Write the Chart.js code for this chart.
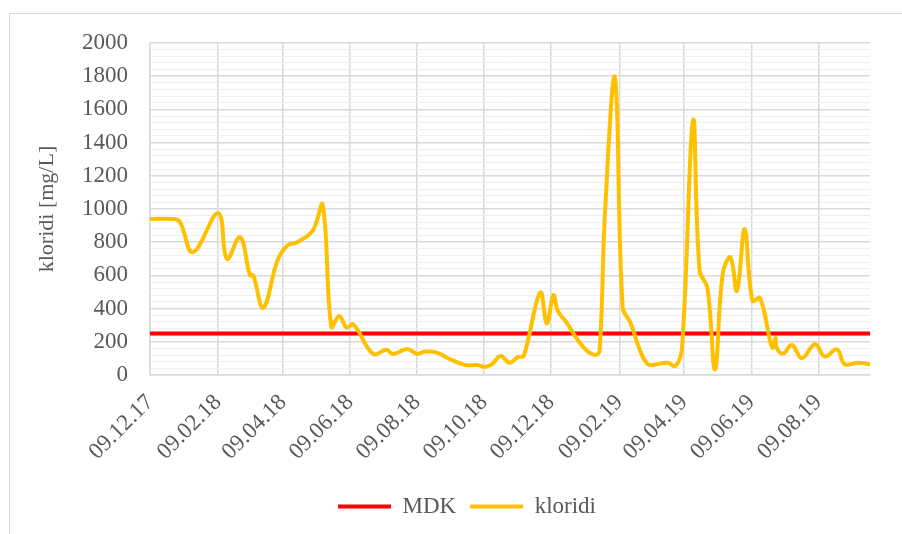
<!DOCTYPE html>
<html>
<head>
<meta charset="utf-8">
<script src="https://cdn.jsdelivr.net/npm/chart.js"></script>
<style>
  html, body { margin: 0; padding: 0; background: #fff; overflow: hidden; }
  #frame { position: absolute; left: 9px; top: 13px; width: 1000px; height: 1000px; border: 1px solid #d9d9d9; }
  #wrap { position: absolute; left: 0; top: 0; width: 902px; height: 534px; }
</style>
</head>
<body>
<div id="frame"></div>
<div id="wrap"><canvas id="myChart" width="902" height="534"></canvas></div>
<script>
  const dates = [
    '2017-12-09', '2017-12-29', '2018-01-05', '2018-01-17', '2018-02-09', '2018-02-17',
    '2018-03-01', '2018-03-10', '2018-03-13', '2018-03-22', '2018-04-04', '2018-04-13',
    '2018-04-22', '2018-05-06', '2018-05-15', '2018-05-23', '2018-05-30', '2018-06-06',
    '2018-06-12', '2018-06-30', '2018-07-12', '2018-07-18', '2018-07-31', '2018-08-09',
    '2018-08-16', '2018-08-27', '2018-09-08', '2018-09-22', '2018-10-03', '2018-10-10',
    '2018-10-16', '2018-10-24', '2018-11-01', '2018-11-09', '2018-11-14', '2018-11-29',
    '2018-12-05', '2018-12-11', '2018-12-15', '2018-12-23', '2019-01-01', '2019-01-10',
    '2019-01-18', '2019-01-22', '2019-01-27', '2019-02-05', '2019-02-12', '2019-02-19',
    '2019-02-28', '2019-03-07', '2019-03-15', '2019-03-25', '2019-04-01', '2019-04-07',
    '2019-04-17', '2019-04-23', '2019-04-30', '2019-05-07', '2019-05-14', '2019-05-21',
    '2019-05-27', '2019-06-03', '2019-06-10', '2019-06-17', '2019-06-28', '2019-07-01',
    '2019-07-02', '2019-07-08', '2019-07-16', '2019-07-25', '2019-08-06', '2019-08-15',
    '2019-08-26', '2019-09-02', '2019-09-14', '2019-09-25'
  ];
  const kloridi = [
    940, 940, 925, 740, 975, 700,
    830, 600, 600, 405, 690, 780,
    800, 870, 1025, 290, 355, 285,
    305, 127, 152, 127, 157, 127,
    141, 135, 95, 60, 60, 48,
    65, 115, 74, 109, 115, 497,
    310, 481, 387, 316, 222, 149,
    121, 149, 990, 1790, 407, 316,
    145, 65, 65, 74, 54, 165,
    1534, 628, 527, 34, 608, 709,
    507, 880, 447, 463, 165, 225,
    165, 129, 181, 101, 185, 111,
    155, 65, 74, 65
  ];
  const mdk = 250;
  const tickDates = [
    '2017-12-09', '2018-02-09', '2018-04-09', '2018-06-09', '2018-08-09', '2018-10-09',
    '2018-12-09', '2019-02-09', '2019-04-09', '2019-06-09', '2019-08-09'
  ];

  const start = Date.UTC(2017, 11, 9);
  function dayOf(s) {
    const p = s.split('-').map(Number);
    return (Date.UTC(p[0], p[1] - 1, p[2]) - start) / 864e5;
  }
  function fmt(s) {
    const p = s.split('-');
    return p[2] + '.' + p[1] + '.' + p[0].slice(2);
  }

  const xMax = dayOf(dates[dates.length - 1]);
  const font = { family: 'Liberation Serif', size: 23 };
  const grey = '#595959';

  // legend sits a bit right of the canvas centre in the original
  const shiftLegend = {
    id: 'shiftLegend',
    afterLayout(chart) {
      chart.legend.left += 32;
      chart.legend.right += 32;
    }
  };

  new Chart(document.getElementById('myChart'), {
    type: 'line',
    data: {
      datasets: [
        {
          label: 'MDK',
          data: [{ x: 0, y: mdk }, { x: xMax, y: mdk }],
          borderColor: '#ff0000',
          backgroundColor: '#ff0000',
          borderWidth: 4,
          pointRadius: 0,
          order: 1
        },
        {
          label: 'kloridi',
          data: dates.map((d, i) => ({ x: dayOf(d), y: kloridi[i] })),
          borderColor: '#ffc000',
          backgroundColor: '#ffc000',
          borderWidth: 4,
          pointRadius: 0,
          tension: 0.4,
          order: 0
        }
      ]
    },
    plugins: [shiftLegend],
    options: {
      responsive: false,
      animation: false,
      devicePixelRatio: 1,
      layout: { padding: { left: 0, top: 43, right: 32, bottom: 6 } },
      plugins: {
        tooltip: { enabled: false },
        legend: {
          position: 'bottom',
          labels: {
            font: font,
            color: grey,
            boxWidth: 53,
            boxHeight: 4,
            padding: 14,
            sort: (a, b) => a.datasetIndex - b.datasetIndex,
            generateLabels: chart =>
              Chart.defaults.plugins.legend.labels.generateLabels(chart)
                .map(l => Object.assign(l, { lineWidth: 0 }))
          }
        }
      },
      scales: {
        x: {
          type: 'linear',
          min: 0,
          max: xMax,
          afterBuildTicks: s => { s.ticks = tickDates.map(t => ({ value: dayOf(t) })); },
          afterFit: s => { s.height = 106; },
          ticks: {
            callback: (v, i) => fmt(tickDates[i]),
            autoSkip: false,
            minRotation: 45,
            maxRotation: 45,
            padding: 14,
            font: font,
            color: grey
          },
          grid: { color: '#d9d9d9', lineWidth: 1.5, drawTicks: false },
          border: { color: '#d9d9d9', width: 1.5 }
        },
        y: {
          min: 0,
          max: 2000,
          afterFit: s => { s.width = 150; },
          ticks: {
            stepSize: 40,
            autoSkip: false,
            padding: 22,
            callback: v => (v % 200 === 0 ? v : ''),
            font: font,
            color: grey
          },
          grid: {
            color: c => (c.tick && c.tick.value % 200 === 0 ? '#d9d9d9' : '#efefef'),
            lineWidth: c => (c.tick && c.tick.value % 200 === 0 ? 1.5 : 1),
            drawTicks: false
          },
          border: { color: '#d9d9d9', width: 1.5 },
          title: {
            display: true,
            text: 'kloridi [mg/L]',
            font: { family: 'Liberation Serif', size: 22 },
            color: grey,
            padding: { top: 34, bottom: 0 }
          }
        }
      }
    }
  });
</script>
</body>
</html>
